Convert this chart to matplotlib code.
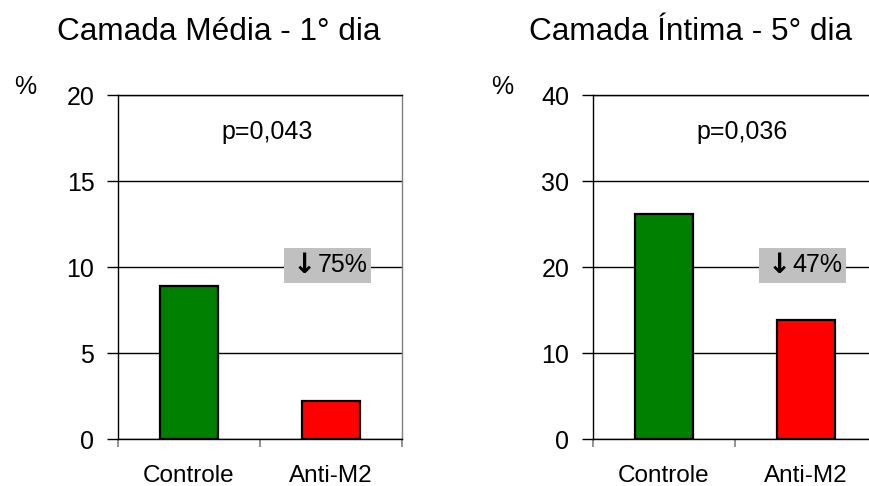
import matplotlib
matplotlib.use('Agg')
import matplotlib.pyplot as plt
from matplotlib.patches import Rectangle

plt.rcParams['font.family'] = ['Liberation Sans', 'DejaVu Sans']

categories = ['Controle', 'Anti-M2']
bar_colors = ['#008000', '#ff0000']

media_values = [8.9, 2.2]
intima_values = [26.2, 13.8]

panels = [
    {'title': 'Camada Média - 1° dia', 'values': media_values,
     'ymax': 20, 'step': 5, 'p': 'p=0,043', 'drop': '75%'},
    {'title': 'Camada Íntima - 5° dia', 'values': intima_values,
     'ymax': 40, 'step': 10, 'p': 'p=0,036', 'drop': '47%'},
]

fig = plt.figure(figsize=(8.69, 4.86), dpi=100)

ax_w = 0.3268
ax_h = 0.7078
ax_b = 0.0967
lefts = [0.1358, 0.6824]
title_x = [0.2514, 0.7946]
pct_x = [0.0288, 0.578]

for i, panel in enumerate(panels):
    ax = fig.add_axes([lefts[i], ax_b, ax_w, ax_h])
    x = range(len(categories))
    ax.bar(x, panel['values'], width=0.41, color=bar_colors,
           edgecolor='black', linewidth=1.6, zorder=3)

    ax.set_xlim(-0.5, 1.5)
    ax.set_ylim(0, panel['ymax'])
    yt = list(range(0, panel['ymax'] + 1, panel['step']))
    ax.set_yticks(yt)
    ax.yaxis.grid(True, color='black', linewidth=1.0, zorder=0)
    ax.set_axisbelow(True)

    # category labels between boundary ticks, like excel
    ax.set_xticks([-0.5, 0.5, 1.5])
    ax.set_xticklabels([])
    ax.set_xticks(list(x), minor=True)
    ax.set_xticklabels(categories, minor=True, fontsize=17.5)
    ax.tick_params(axis='x', which='minor', length=0, pad=19)
    ax.tick_params(axis='x', which='major', length=6, color='#808080',
                   width=1.2, direction='out')
    ax.tick_params(axis='y', length=8, width=1.0, pad=9, labelsize=18,
                   direction='out')

    ax.spines['left'].set_color('black')
    ax.spines['bottom'].set_color('black')
    ax.spines['right'].set_color('#808080')
    ax.spines['top'].set_color('black')
    for s in ax.spines.values():
        s.set_linewidth(1.0)

    ax.text(0.525, 0.892, panel['p'], transform=ax.transAxes,
            ha='center', va='center', fontsize=18)

    ax.add_patch(Rectangle((0.583, 0.453), 0.308, 0.102,
                           transform=ax.transAxes, facecolor='#c0c0c0',
                           edgecolor='none', zorder=4))
    ax.text(0.655, 0.505, '↓', transform=ax.transAxes, family='DejaVu Sans',
            fontweight='bold', ha='center', va='center', fontsize=20, zorder=5)
    ax.text(0.703, 0.505, panel['drop'], transform=ax.transAxes,
            ha='left', va='center', fontsize=18, zorder=5)

    fig.text(title_x[i], 0.934, panel['title'], ha='center', va='center',
             fontsize=22.7)
    fig.text(pct_x[i], 0.821, '%', ha='center', va='center', fontsize=18)

fig.savefig('out.png', dpi=100)
